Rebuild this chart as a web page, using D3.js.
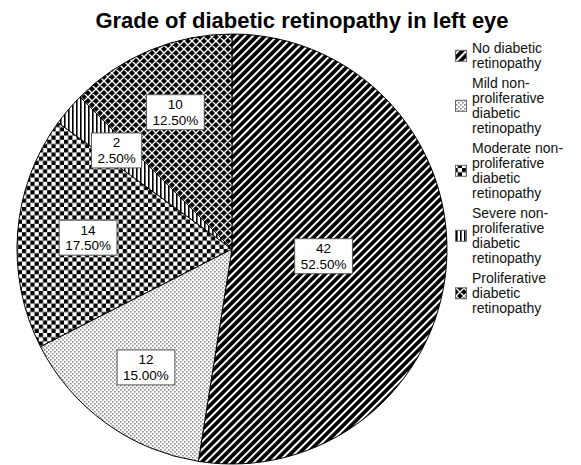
<!DOCTYPE html>
<html>
<head>
<meta charset="utf-8">
<script src="https://cdn.jsdelivr.net/npm/d3@7"></script>
<style>
  body { margin: 0; background: #fff; }
  svg { display: block; font-family: "Liberation Sans", Arial, sans-serif; }
</style>
</head>
<body>
<div id="chart"></div>
<script>
// Data
const categories = [
  "No diabetic retinopathy",
  "Mild non-proliferative diabetic retinopathy",
  "Moderate non-proliferative diabetic retinopathy",
  "Severe non-proliferative diabetic retinopathy",
  "Proliferative diabetic retinopathy"
];
const counts = [42, 12, 14, 2, 10];
const percents = ["52.50%", "15.00%", "17.50%", "2.50%", "12.50%"];
// legend text, wrapped the way the reference wraps it
const legendLines = [
  ["No diabetic", "retinopathy"],
  ["Mild non-", "proliferative", "diabetic", "retinopathy"],
  ["Moderate non-", "proliferative", "diabetic", "retinopathy"],
  ["Severe non-", "proliferative", "diabetic", "retinopathy"],
  ["Proliferative", "diabetic", "retinopathy"]
];
const patternIds = ["p-none", "p-mild", "p-moderate", "p-severe", "p-prolif"];

const width = 581, height = 465;
const cx = 232, cy = 249, r = 215;

const svg = d3.select("#chart").append("svg")
  .attr("width", width)
  .attr("height", height);

// Fill patterns
const defs = svg.append("defs");

// diagonal "/" stripes, mostly black
const p1 = defs.append("pattern").attr("id", "p-none")
  .attr("patternUnits", "userSpaceOnUse").attr("width", 5.7).attr("height", 5.7)
  .attr("patternTransform", "rotate(45)");
p1.append("rect").attr("width", 5.7).attr("height", 5.7).attr("fill", "#000");
p1.append("rect").attr("width", 2).attr("height", 5.7).attr("fill", "#fff");

// grey dots on white
const p2 = defs.append("pattern").attr("id", "p-mild")
  .attr("patternUnits", "userSpaceOnUse").attr("width", 4).attr("height", 4);
p2.append("rect").attr("width", 4).attr("height", 4).attr("fill", "#fff");
p2.append("rect").attr("x", 0).attr("y", 0).attr("width", 1.6).attr("height", 1.6).attr("fill", "#8a8a8a");
p2.append("rect").attr("x", 2).attr("y", 2).attr("width", 1.6).attr("height", 1.6).attr("fill", "#8a8a8a");

// checkerboard
const p3 = defs.append("pattern").attr("id", "p-moderate")
  .attr("patternUnits", "userSpaceOnUse").attr("width", 8.4).attr("height", 8.4);
p3.append("rect").attr("width", 8.4).attr("height", 8.4).attr("fill", "#fff");
p3.append("rect").attr("width", 4.2).attr("height", 4.2).attr("fill", "#000");
p3.append("rect").attr("x", 4.2).attr("y", 4.2).attr("width", 4.2).attr("height", 4.2).attr("fill", "#000");

// vertical stripes
const p4 = defs.append("pattern").attr("id", "p-severe")
  .attr("patternUnits", "userSpaceOnUse").attr("width", 4).attr("height", 4);
p4.append("rect").attr("width", 4).attr("height", 4).attr("fill", "#fff");
p4.append("rect").attr("width", 1.6).attr("height", 4).attr("fill", "#000");

// black with white diagonal lattice
const p5 = defs.append("pattern").attr("id", "p-prolif")
  .attr("patternUnits", "userSpaceOnUse").attr("width", 8).attr("height", 8);
p5.append("rect").attr("width", 8).attr("height", 8).attr("fill", "#000");
p5.append("path").attr("d", "M0,0L8,8M8,0L0,8M-1,7L1,9M7,-1L9,1M-1,1L1,-1M7,9L9,7")
  .attr("stroke", "#fff").attr("stroke-width", 1.4);

// Title
svg.append("text")
  .attr("x", 302).attr("y", 28)
  .attr("text-anchor", "middle")
  .attr("font-weight", "bold")
  .attr("font-size", 22)
  .text("Grade of diabetic retinopathy in left eye");

// Pie
const pie = d3.pie().sort(null).value(d => d);
const arcs = pie(counts);
const arc = d3.arc().innerRadius(0).outerRadius(r);

const g = svg.append("g").attr("transform", `translate(${cx},${cy})`);

g.selectAll("path.slice")
  .data(arcs)
  .join("path")
  .attr("class", "slice")
  .attr("d", arc)
  .attr("fill", (d, i) => `url(#${patternIds[i]})`)
  .attr("stroke", "#000")
  .attr("stroke-width", 1);

// Labels near the area centroid of each slice
const labels = g.selectAll("g.lbl")
  .data(arcs)
  .join("g")
  .attr("class", "lbl")
  .attr("transform", d => {
    const a = d.endAngle - d.startAngle;
    const mid = (d.startAngle + d.endAngle) / 2;
    const dist = 1.06 * 4 * r * Math.sin(a / 2) / (3 * a);
    return `translate(${dist * Math.sin(mid)},${-dist * Math.cos(mid)})`;
  });

labels.each(function (d, i) {
  const sel = d3.select(this);
  const box = sel.append("rect");
  const t = sel.append("text")
    .attr("text-anchor", "middle")
    .attr("font-size", 13.5);
  t.append("tspan").attr("x", 0).attr("y", -3).text(counts[i]);
  t.append("tspan").attr("x", 0).attr("y", 12.5).text(percents[i]);
  const spans = t.selectAll("tspan").nodes();
  const w = Math.max(spans[0].getComputedTextLength(), spans[1].getComputedTextLength());
  box.attr("x", -w / 2 - 6).attr("y", -17.5)
    .attr("width", w + 12).attr("height", 35)
    .attr("fill", "#fff").attr("stroke", "#555").attr("stroke-width", 1);
});

// Legend
const lineH = 15, gap = 5;
let y0 = 48.3;   // centre of the first text line
const legend = svg.append("g");
legendLines.forEach((lines, i) => {
  const mid = y0 + (lines.length - 1) * lineH / 2;
  const item = legend.append("g");
  item.append("rect")
    .attr("x", 455.5).attr("y", mid - 5.5)
    .attr("width", 11).attr("height", 11)
    .attr("fill", `url(#${patternIds[i]})`)
    .attr("stroke", "#666").attr("stroke-width", 1);
  item.append("text")
    .attr("font-size", 14)
    .attr("fill", "#111")
    .selectAll("tspan")
    .data(lines)
    .join("tspan")
    .attr("x", 472)
    .attr("y", (d, j) => y0 + 5 + j * lineH)
    .text(d => d);
  y0 += lines.length * lineH + gap;
});
</script>
</body>
</html>
